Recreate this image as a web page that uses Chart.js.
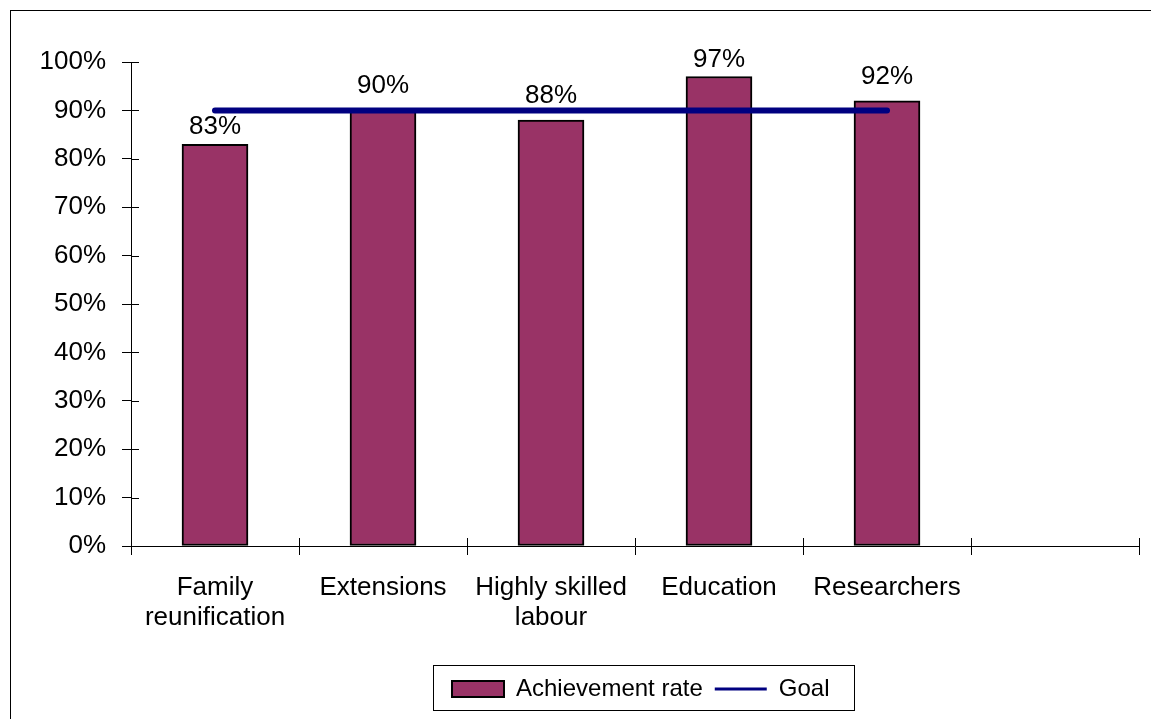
<!DOCTYPE html>
<html>
<head>
<meta charset="utf-8">
<script src="https://cdn.jsdelivr.net/npm/chart.js@4.4.1/dist/chart.umd.min.js"></script>
<style>
  html, body { margin: 0; padding: 0; background: #fff; }
</style>
</head>
<body>
<canvas id="chart" width="1151" height="719"></canvas>
<script>
// data
const categories = [['Family', 'reunification'], 'Extensions', ['Highly skilled', 'labour'], 'Education', 'Researchers', ''];
const achievementRate = [0.83, 0.90, 0.88, 0.97, 0.92, null];
const goal = [0.90, 0.90, 0.90, 0.90, 0.90, null];
const seriesNames = ['Achievement rate', 'Goal'];

const FONT = 'Liberation Sans, Arial, sans-serif';
const BAR_COLOR = '#993366';
const GOAL_COLOR = '#000080';

// frame, inner half of the axis ticks, value labels, legend box
const extras = {
  id: 'extras',
  afterLayout(chart) {
    // move legend so items start where the reference has them
    const lg = chart.legend;
    const w = lg.right - lg.left;
    lg.left = 440;
    lg.right = 440 + w;
  },
  beforeDraw(chart) {
    const ctx = chart.ctx;
    ctx.save();
    ctx.fillStyle = '#fff';
    ctx.fillRect(0, 0, chart.width, chart.height);
    ctx.strokeStyle = '#000';
    ctx.lineWidth = 1;
    ctx.strokeRect(10.5, 10.5, 1300, 900);
    ctx.restore();
  },
  afterDatasetsDraw(chart) {
    const ctx = chart.ctx;
    const x = chart.scales.x, y = chart.scales.y;
    ctx.save();
    ctx.strokeStyle = '#000';
    ctx.lineWidth = 1;
    ctx.beginPath();
    y.ticks.forEach(t => {
      const py = Math.round(y.getPixelForValue(t.value)) + 0.5;
      ctx.moveTo(x.left, py);
      ctx.lineTo(x.left + 8, py);
    });
    for (let i = 0; i <= categories.length; i++) {
      const px = Math.round(x.getPixelForValue(i - 0.5)) + 0.5;
      ctx.moveTo(px, y.bottom);
      ctx.lineTo(px, y.bottom - 8);
    }
    ctx.stroke();

    // value labels; pushed higher where the goal line runs close to the bar top
    const meta = chart.getDatasetMeta(0);
    ctx.fillStyle = '#000';
    ctx.font = '26px ' + FONT;
    ctx.textAlign = 'center';
    ctx.textBaseline = 'alphabetic';
    meta.data.forEach((bar, i) => {
      const v = achievementRate[i];
      if (v == null) return;
      const near = goal[i] != null && Math.abs(v - goal[i]) <= 0.03;
      ctx.fillText(Math.round(v * 100) + '%', bar.x, bar.y - (near ? 17 : 10));
    });
    ctx.restore();
  },
  afterDraw(chart) {
    const lg = chart.legend;
    const boxes = lg.legendHitBoxes;
    if (!boxes || !boxes.length) return;
    const l = Math.min(...boxes.map(b => b.left));
    const r = Math.max(...boxes.map(b => b.left + b.width));
    const ctx = chart.ctx;
    ctx.save();
    ctx.strokeStyle = '#000';
    ctx.lineWidth = 1;
    ctx.strokeRect(Math.round(l - 19) + 0.5, Math.round(lg.top) + 0.5, Math.round(r - l + 44), Math.round(lg.bottom - lg.top) - 1);
    ctx.restore();
  }
};

new Chart(document.getElementById('chart'), {
  type: 'bar',
  data: {
    labels: categories,
    datasets: [
      {
        label: seriesNames[0],
        data: achievementRate,
        backgroundColor: BAR_COLOR,
        borderColor: '#000',
        borderWidth: 2,
        borderSkipped: false,
        barThickness: 66,
        order: 2
      },
      {
        type: 'line',
        label: seriesNames[1],
        data: goal,
        borderColor: GOAL_COLOR,
        backgroundColor: GOAL_COLOR,
        borderWidth: 6,
        borderCapStyle: 'round',
        pointRadius: 0,
        pointHoverRadius: 0,
        fill: false,
        order: 1
      }
    ]
  },
  options: {
    responsive: false,
    animation: false,
    devicePixelRatio: 1,
    layout: { padding: { left: 0, right: 12, top: 62, bottom: 8 } },
    plugins: {
      tooltip: { enabled: false },
      legend: {
        position: 'bottom',
        align: 'start',
        labels: {
          font: { family: FONT, size: 24 },
          color: '#000',
          usePointStyle: true,
          pointStyleWidth: 52,
          boxHeight: 16,
          padding: 12,
          generateLabels() {
            return [
              { text: seriesNames[0], fillStyle: BAR_COLOR, strokeStyle: '#000', lineWidth: 2, pointStyle: 'rect', datasetIndex: 0 },
              { text: seriesNames[1], fillStyle: GOAL_COLOR, strokeStyle: GOAL_COLOR, lineWidth: 3, pointStyle: 'line', datasetIndex: 1 }
            ];
          }
        }
      }
    },
    scales: {
      x: {
        offset: true,
        grid: { offset: true, drawOnChartArea: false, drawTicks: true, tickLength: 9, color: '#000' },
        border: { color: '#000', width: 1 },
        ticks: { font: { family: FONT, size: 26, lineHeight: 1.15 }, color: '#000', padding: 18, maxRotation: 0, autoSkip: false },
        afterFit(scale) { scale.height = 119; }
      },
      y: {
        min: 0,
        max: 1,
        grid: { drawOnChartArea: false, drawTicks: true, tickLength: 9, color: '#000' },
        border: { color: '#000', width: 1 },
        ticks: {
          stepSize: 0.1,
          font: { family: FONT, size: 26 },
          color: '#000',
          padding: 16,
          callback: v => Math.round(v * 100) + '%'
        },
        afterFit(scale) { scale.width = 131; }
      }
    }
  },
  plugins: [extras]
});
</script>
</body>
</html>
